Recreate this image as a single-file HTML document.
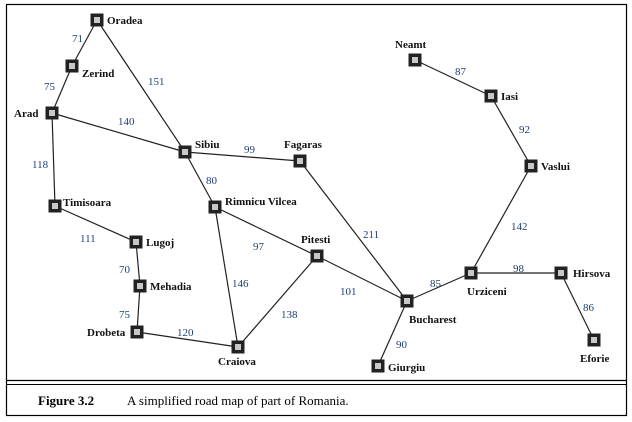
<!DOCTYPE html>
<html><head><meta charset="utf-8"><style>
body{margin:0;background:#fff;}
svg{display:block;font-family:"Liberation Serif",serif;}
.city{font-weight:bold;font-size:11px;fill:#111;}
.dist{font-size:11px;fill:#1d3f73;}
</style></head><body>
<svg id="map" width="632" height="422" viewBox="0 0 632 422">
<rect x="6.5" y="4.5" width="620" height="411" fill="none" stroke="#000" stroke-width="1.2"/>
<line x1="6" y1="380.5" x2="627" y2="380.5" stroke="#000" stroke-width="1.2"/>
<line x1="6" y1="384.5" x2="627" y2="384.5" stroke="#000" stroke-width="1"/>
<text x="38" y="405" font-size="13" font-weight="bold">Figure 3.2</text>
<text x="127" y="405" font-size="13">A simplified road map of part of Romania.</text>
<g id="edges"></g><g id="dists"></g><g id="nodes"></g>
</svg>
<script>
const cities=["Oradea","Zerind","Arad","Timisoara","Lugoj","Mehadia","Drobeta","Craiova","Sibiu","Rimnicu Vilcea","Fagaras","Pitesti","Bucharest","Giurgiu","Urziceni","Hirsova","Eforie","Vaslui","Iasi","Neamt"];
const cx=[97,72,52,55,136,140,137,238,185,215,300,317,407,378,471,561,594,531,491,415];
const cy=[20,66,113,206,242,286,332,347,152,207,161,256,301,366,273,273,340,166,96,60];
const labelDx=[10,10,-38,8,10,10,-50,-20,10,10,-16,-16,2,10,-4,12,-14,10,10,-20];
const labelDy=[4,11,4,0,4,4,4,18,-4,-2,-13,-13,22,5,22,4,22,4,4,-12];
const edgeFrom=[0,1,2,0,2,3,4,5,6,8,8,9,9,10,11,7,12,12,14,14,15,17,18];
const edgeTo=[1,2,8,8,3,4,5,6,7,10,9,11,7,12,12,11,13,14,15,17,16,18,19];
const edgeDist=[71,75,140,151,118,111,70,75,120,99,80,97,146,211,101,138,90,85,98,142,86,92,87];
const distX=[72,44,118,148,32,80,119,119,177,244,206,253,232,363,340,281,396,430,513,511,583,519,455];
const distY=[42,90,125,85,168,242,273,318,336,153,184,250,287,238,295,318,348,287,272,230,311,133,75];
const NS="http://www.w3.org/2000/svg";
const E=document.getElementById('edges'),D=document.getElementById('dists'),N=document.getElementById('nodes');
for(let i=0;i<edgeFrom.length;i++){
 const l=document.createElementNS(NS,'line');
 
 
 l.setAttribute('x1',cx[edgeFrom[i]]);l.setAttribute('y1',cy[edgeFrom[i]]);
 l.setAttribute('x2',cx[edgeTo[i]]);l.setAttribute('y2',cy[edgeTo[i]]);
 l.setAttribute('stroke','#222');l.setAttribute('stroke-width','1.2');
 E.appendChild(l);
 const t=document.createElementNS(NS,'text');
 
 
 t.setAttribute('class','dist');t.setAttribute('x',distX[i]);t.setAttribute('y',distY[i]);
 t.textContent=edgeDist[i];D.appendChild(t);
}
for(let i=0;i<cities.length;i++){
 const g=document.createElementNS(NS,'g');
 
 
 const r=document.createElementNS(NS,'rect');
 r.setAttribute('x',cx[i]-6.5);r.setAttribute('y',cy[i]-6.5);r.setAttribute('width',13);r.setAttribute('height',13);
 r.setAttribute('fill','#222');g.appendChild(r);
 const r2=document.createElementNS(NS,'rect');
 r2.setAttribute('x',cx[i]-3);r2.setAttribute('y',cy[i]-3);r2.setAttribute('width',6);r2.setAttribute('height',6);
 r2.setAttribute('fill','#c8c8c8');g.appendChild(r2);
 const t=document.createElementNS(NS,'text');
 t.setAttribute('class','city');t.setAttribute('x',cx[i]+labelDx[i]);t.setAttribute('y',cy[i]+labelDy[i]);
 t.textContent=cities[i];g.appendChild(t);
 N.appendChild(g);
}
</script>
</body></html>
